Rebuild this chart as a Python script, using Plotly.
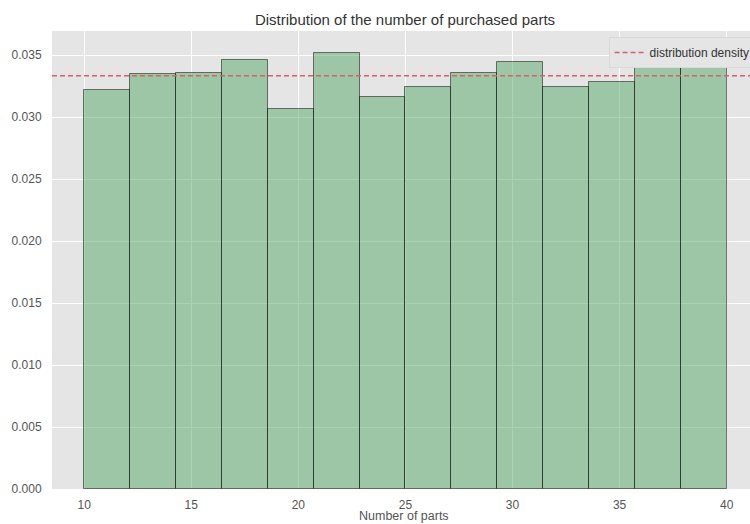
import numpy as np
import plotly.graph_objects as go

# histogram of purchased parts (density), 14 bins between 10 and 40
bin_start = 10
bin_end = 40
n_bins = 14
density = [0.03218, 0.03347, 0.03355, 0.03460, 0.03067, 0.03519, 0.03161,
           0.03245, 0.03357, 0.03441, 0.03242, 0.03280, 0.03449, 0.03425]
dist_density = 1 / 30
x_ticks = [10, 15, 20, 25, 30, 35, 40]
y_ticks = [0.0, 0.005, 0.01, 0.015, 0.02, 0.025, 0.03, 0.035]

edges = np.linspace(bin_start, bin_end, n_bins + 1)
centers = (edges[:-1] + edges[1:]) / 2
widths = np.diff(edges)

fig = go.Figure()

fig.add_trace(go.Bar(
    x=centers,
    y=density,
    width=widths,
    marker=dict(color='rgba(85,168,104,0.5)', line=dict(color='rgba(0,0,0,0.5)', width=1)),
    showlegend=False
))

fig.add_trace(go.Scatter(
    x=[8.5, 41.5],
    y=[dist_density, dist_density],
    mode='lines',
    line=dict(color='#d0646a', width=1.6, dash='5px,3px'),
    name='distribution density'
))

fig.update_layout(
    width=750,
    height=524,
    margin=dict(l=52, r=0, t=31, b=35, autoexpand=False),
    paper_bgcolor='white',
    plot_bgcolor='#e5e5e5',
    font=dict(family="Liberation Sans, Arial, sans-serif", size=12, color='#555555'),
    title=dict(
        text='Distribution of the number of purchased parts',
        x=405 / 750, xanchor='center',
        y=1 - 20 / 524, yanchor='middle', yref='container',
        font=dict(size=15, color='#333333')
    ),
    bargap=0,
    legend=dict(
        x=1.008, xanchor='right', y=1 - 6 / 458, yanchor='top',
        bgcolor='#e5e5e5', bordercolor='#d8d8d8', borderwidth=1,
        itemwidth=30, tracegroupgap=0,
        font=dict(size=12, color='#333333')
    ),
    xaxis=dict(
        range=[8.5, 41.09],
        tickvals=x_ticks,
        showgrid=True, gridcolor='white', gridwidth=1,
        zeroline=False, automargin=False,
        ticks='outside', ticklen=5, tickcolor='rgba(0,0,0,0)'
    ),
    yaxis=dict(
        range=[0, 0.03694],
        tickvals=y_ticks,
        tickformat='.3f',
        showgrid=True, gridcolor='white', gridwidth=1,
        zeroline=False, automargin=False,
        ticks='outside', ticklen=7, tickcolor='rgba(0,0,0,0)'
    )
)

# x axis label, placed just under the tick labels like the original
fig.add_annotation(
    text='Number of parts',
    xref='paper', yref='paper', x=0.505, y=0,
    xanchor='center', yanchor='middle', yshift=-27,
    showarrow=False, font=dict(size=12.5, color='#555555')
)

# drop the page's default body margin so the figure sits at the top-left corner
fig.write_html("out.html", config={'displayModeBar': False},
               post_script="document.body.style.margin='0';document.body.style.overflow='hidden';")
